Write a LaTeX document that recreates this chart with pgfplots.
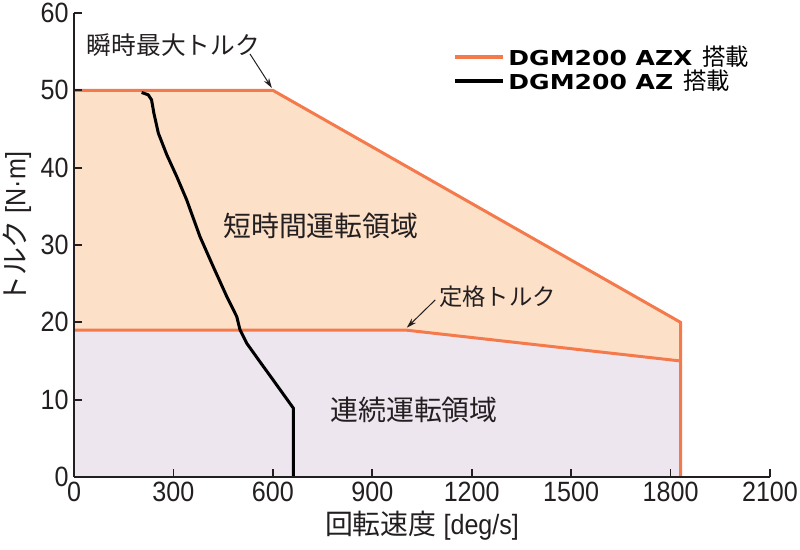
\documentclass[border=0pt]{standalone}
\usepackage{fontspec}
\setmainfont{Liberation Sans}[FakeStretch=0.9]
\newfontfamily\jp{Noto Sans CJK JP}
\newfontfamily\lgf{DejaVu Sans Bold}[FakeStretch=1.22]
\usepackage{pgfplots}
\pgfplotsset{compat=1.18}
\usetikzlibrary{arrows.meta}
\definecolor{orng}{HTML}{F47A4C}
\definecolor{peach}{HTML}{FCE0C8}
\definecolor{lav}{HTML}{EEE6EF}
\definecolor{txt}{HTML}{231F20}
\begin{document}
\begin{tikzpicture}
\begin{axis}[name=ax, scale only axis, width=348bp, height=232bp,
  xmin=0, xmax=2100, ymin=0, ymax=60,
  axis x line=bottom, axis y line=left,
  axis line style={-, draw=txt, line width=0.9pt},
  xtick={0,300,...,2100}, ytick={0,10,...,60},
  tick align=inside, major tick length=4bp,
  tick style={draw=txt, line width=0.9pt},
  ticklabel style={font=\fontsize{14}{14}\selectfont, text=txt, inner sep=2.5bp},
  /pgf/number format/assume math mode=true,
  /pgf/number format/1000 sep={},
  axis on top, clip=false,
  xlabel={{\jp 回転速度} [deg/s]},
  ylabel={{\jp トルク} [N·m]},
  label style={font=\fontsize{14}{14}\selectfont, text=txt},
  xlabel style={at={(axis description cs:0.5,-0.106)}, anchor=center},
  ylabel style={at={(axis description cs:-0.082,0.537)}, anchor=center},
  legend style={at={(0.536,0.945)}, anchor=north west, draw=none, fill=none,
    font=\fontsize{10.3}{10}\selectfont, text=black, row sep=-2.5bp,
    nodes={inner sep=1.5bp}},
  legend cell align=left,
  legend image code/.code={\draw[#1] (0bp,0bp) -- (20bp,0bp); \path (0bp,0bp) -- (24bp,0bp);},
]
\addplot[fill=peach, draw=none, forget plot] coordinates {(0,50) (600,50) (1830,20) (1830,15) (1000,19) (0,19)} -- cycle;
\addplot[fill=lav, draw=none, forget plot] coordinates {(0,0) (0,19) (1000,19) (1830,15) (1830,0)} -- cycle;
\addplot[orng, line width=1.5bp, forget plot] coordinates {(0,50) (600,50) (1830,20) (1830,0)};
\addplot[orng, line width=1.5bp, forget plot] coordinates {(0,19) (1000,19) (1830,15)};
\addplot[black, line width=1.5bp, line join=round, forget plot] coordinates {
(204,49.72) (224,49.42) (234,48.77) (241,47.05) (254.5,44.46) (280,41.66)
(310,38.85) (340,35.83) (380,31.09) (420,27.21) (461,23.33) (491,20.74)
(501,19.02) (521,17.3) (561,14.9) (597,12.77) (662,8.89) (662,0)};
\addlegendimage{orng, line width=2bp}
\addlegendentry{{\lgf DGM200 AZX}\hspace{5bp}{\jp\fontsize{11.7}{12}\selectfont 搭載}}
\addlegendimage{black, line width=2bp}
\addlegendentry{{\lgf DGM200 AZ}\hspace{5bp}{\jp\fontsize{11.7}{12}\selectfont 搭載}}
\node[font=\jp\fontsize{12.4}{13}\selectfont, text=txt] at (axis cs:300,55.9) {瞬時最大トルク};
\draw[-{Stealth[length=5bp,width=3bp]}, line width=0.5bp, txt] (axis cs:531,54.7) -- (axis cs:597,50.3);
\node[font=\jp\fontsize{11.7}{12}\selectfont, text=txt] at (axis cs:1278,23.3) {定格トルク};
\draw[-{Stealth[length=5bp,width=3bp]}, line width=0.5bp, txt] (axis cs:1090,22.9) -- (axis cs:1004,19.3);
\node[font=\jp\fontsize{14}{14}\selectfont, text=txt] at (axis cs:745,32.5) {短時間運転領域};
\node[font=\jp\fontsize{14}{14}\selectfont, text=txt] at (axis cs:1026,8.7) {連続運転領域};
\end{axis}
\pgfresetboundingbox
\path ([xshift=-37bp,yshift=-36.5bp]ax.south west) rectangle ([xshift=15bp,yshift=6.5bp]ax.north east);
\end{tikzpicture}
\end{document}
